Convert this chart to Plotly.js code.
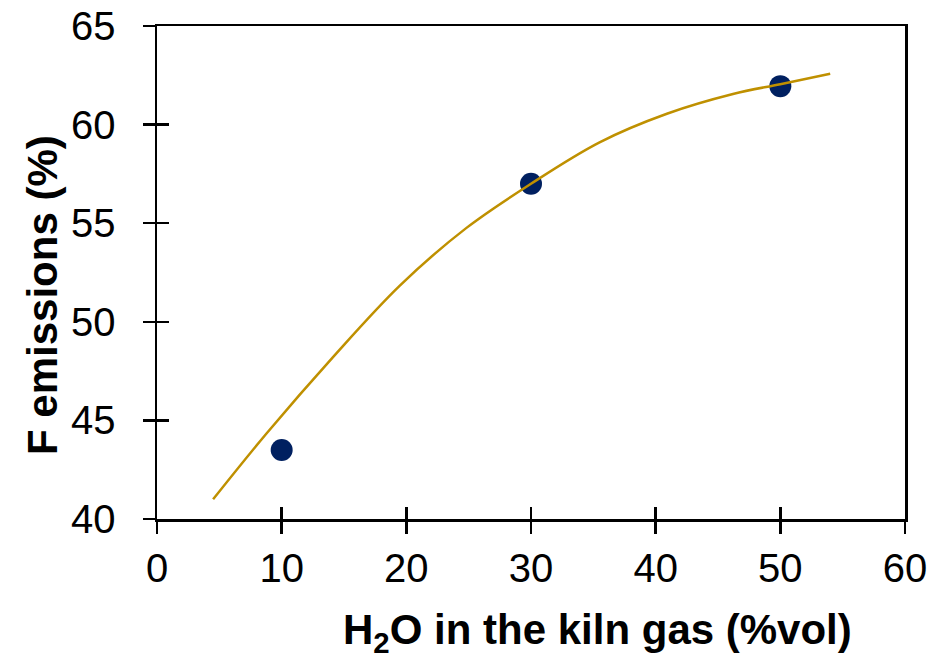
<!DOCTYPE html>
<html>
<head>
<meta charset="utf-8">
<script src="https://cdn.plot.ly/plotly-3.0.1.min.js"></script>
<style>html,body{margin:0;padding:0;background:#fff;}#chart{width:945px;height:656px;}</style>
</head>
<body>
<div id="chart"></div>
<script>
// Measured data points
var waterPct = [10, 30, 50];
var fEmissions = [43.5, 57.0, 61.95];

// Trend line
var trendX = [4.5, 8.8, 14.1, 19.5, 24.8, 30.0, 35.5, 40.9, 46.2, 50.0, 54.0];
var trendY = [41.0, 44.35, 48.2, 51.85, 54.75, 57.0, 59.1, 60.55, 61.55, 62.05, 62.58];

var xTitle = 'H<sub>2</sub>O in the kiln gas (%vol)';
var yTitle = 'F emissions (%)';

var font = 'Liberation Sans, Arial, sans-serif';

var traces = [
  {x: waterPct, y: fEmissions, type: 'scatter', mode: 'markers',
   marker: {color: '#002060', size: 22}, xaxis: 'x', yaxis: 'y', showlegend: false, hoverinfo: 'x+y'},
  {x: trendX, y: trendY, type: 'scatter', mode: 'lines',
   line: {color: '#BF9000', width: 2.5, shape: 'spline', smoothing: 1}, xaxis: 'x2', yaxis: 'y2', showlegend: false}
];

var axBase = {linecolor: '#000', linewidth: 2.5, tickcolor: '#000', tickwidth: 2.5, ticklen: 12,
  showgrid: false, zeroline: false, tickfont: {family: font, size: 40, color: '#000'}};

var layout = {
  width: 945, height: 656,
  margin: {l: 157, r: 40, t: 26, b: 137},
  paper_bgcolor: '#fff', plot_bgcolor: '#fff',
  xaxis: Object.assign({}, axBase, {range: [0, 60], dtick: 10, tick0: 0, ticks: 'outside', showline: true, mirror: true, ticklabelstandoff: 0}),
  yaxis: Object.assign({}, axBase, {range: [40, 65], dtick: 5, tick0: 40, ticks: 'outside', showline: true, mirror: true, ticklabelstandoff: 19}),
  xaxis2: Object.assign({}, axBase, {range: [0, 60], dtick: 10, tick0: 0, ticks: 'inside', overlaying: 'x', anchor: 'y2', side: 'bottom', showline: false, showticklabels: false}),
  yaxis2: Object.assign({}, axBase, {range: [40, 65], dtick: 5, tick0: 40, ticks: 'inside', overlaying: 'y', anchor: 'x2', side: 'left', showline: false, showticklabels: false}),
  annotations: [
    {text: xTitle, xref: 'paper', yref: 'paper', x: (597-157)/748, y: -(632-519)/493, xanchor: 'center', yanchor: 'middle', showarrow: false,
     font: {family: font, size: 42, color: '#000', weight: 'bold'}},
    {text: yTitle, xref: 'paper', yref: 'paper', x: -(157-42)/748, y: (519-295)/493, xanchor: 'center', yanchor: 'middle', showarrow: false, textangle: -90,
     font: {family: font, size: 42, color: '#000', weight: 'bold'}}
  ]
};

Plotly.newPlot('chart', traces, layout, {displayModeBar: false, staticPlot: true});
</script>
</body>
</html>
